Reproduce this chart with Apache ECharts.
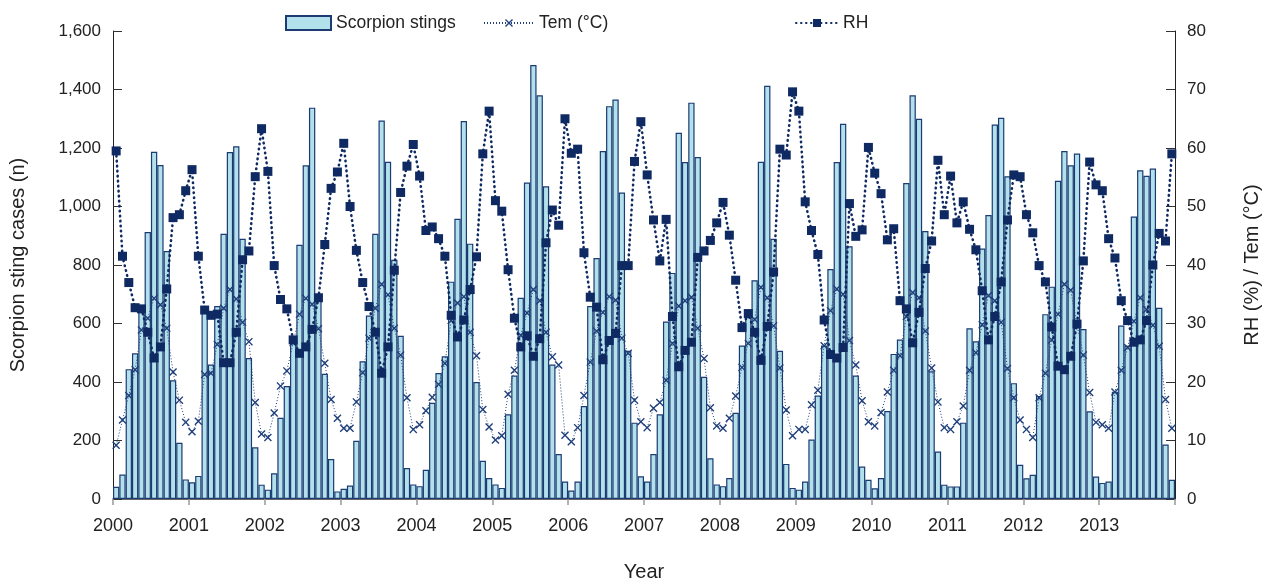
<!DOCTYPE html>
<html><head><meta charset="utf-8">
<script src="https://cdn.jsdelivr.net/npm/echarts@6/dist/echarts.min.js"></script>
<style>html,body{margin:0;padding:0;background:#fff}#c{width:1273px;height:587px}</style>
</head><body><div id="c"></div>
<script>
const yearLabels = ['2000','2001','2002','2003','2004','2005','2006','2007','2008','2009','2010','2011','2012','2013'];
const monthNames = ['Jan','Feb','Mar','Apr','May','Jun','Jul','Aug','Sep','Oct','Nov','Dec'];

const stings = [
  42,84,444,498,640,913,1187,1142,848,406,192,67,
  57,79,647,460,660,907,1186,1206,890,482,177,49,
  32,88,278,386,539,869,1141,1338,697,428,137,26,
  35,46,199,471,627,907,1294,1153,818,558,106,50,
  44,100,329,431,488,743,958,1292,873,400,131,72,
  50,38,290,422,688,1082,1484,1380,1069,460,154,60,
  29,60,318,660,824,1190,1343,1366,1048,507,261,78,
  60,154,290,607,773,1252,1152,1355,1169,418,139,50,
  44,72,295,525,635,748,1153,1413,890,507,120,38,
  32,60,203,354,525,786,1152,1283,864,422,111,66,
  37,72,301,496,545,1080,1380,1300,916,437,162,49,
  43,43,261,584,539,856,971,1280,1303,1103,396,117,
  71,83,352,632,726,1088,1190,1141,1181,581,300,77,
  55,60,367,593,524,966,1124,1105,1130,654,186,66
];
const tem = [
  9.2,13.5,17.7,22.1,28.9,30.9,34.3,33.2,29.2,21.7,16.9,13.1,
  11.5,13.3,21.3,21.5,26.4,32.6,35.8,34.2,30.2,26.9,16.5,11.1,
  10.5,14.7,19.3,21.9,26.7,31.6,34.3,33.3,29.1,23.2,17.0,13.8,
  12.1,12.1,16.6,21.6,27.5,32.6,36.7,34.9,29.2,24.6,17.3,11.9,
  12.7,15.1,17.4,19.6,23.2,30.5,33.5,34.6,28.5,24.5,15.3,12.3,
  10.1,10.8,17.9,22.0,28.0,31.8,35.8,33.9,28.5,24.3,22.9,10.9,
  9.8,12.2,17.7,23.4,28.7,31.9,34.6,34.0,27.5,24.9,16.9,13.2,
  12.2,15.5,16.5,20.3,26.6,33.0,33.9,34.5,29.2,24.0,15.6,12.5,
  12.1,13.8,17.6,22.5,26.6,30.7,36.2,34.4,29.6,22.4,15.2,10.8,
  11.9,11.9,16.1,18.6,26.2,32.2,35.9,35.0,27.1,22.9,16.8,13.2,
  12.5,14.8,18.3,22.0,24.5,31.2,35.3,34.4,28.7,22.4,16.6,12.2,
  11.9,13.2,15.9,22.0,25.0,29.8,34.8,33.9,30.2,22.3,17.3,13.5,
  11.9,10.5,17.3,21.5,27.2,31.6,36.7,35.7,29.8,24.6,18.2,13.1,
  12.7,12.1,18.3,22.0,25.9,30.4,34.4,32.4,29.7,26.1,17.0,12.1
];
const rh = [
  59.5,41.5,37.0,32.7,32.5,28.5,24.1,26.0,35.9,48.1,48.6,52.7,
  56.3,41.5,32.3,31.4,31.6,23.3,23.3,28.5,40.9,42.4,55.1,63.3,
  56.0,39.9,34.1,32.5,27.2,24.9,26.0,29.0,34.4,43.5,53.1,55.9,
  60.8,50.0,42.5,37.0,32.9,28.5,21.5,26.0,39.1,52.4,56.9,60.6,
  55.2,45.9,46.5,44.5,41.5,31.4,27.7,30.6,35.8,41.4,59.0,66.3,
  51.0,49.2,39.2,30.9,26.0,27.9,24.4,27.4,43.8,49.4,46.8,65.0,
  59.1,59.8,42.1,34.5,32.8,23.8,27.1,28.3,39.9,39.9,57.7,64.5,
  55.4,47.7,40.7,47.8,31.2,22.6,25.4,26.8,41.3,42.4,44.2,47.2,
  50.7,45.1,37.4,29.3,31.7,28.5,23.7,29.5,38.8,59.8,58.8,69.6,
  66.3,50.8,45.9,41.8,30.6,24.7,24.1,25.9,50.5,44.9,46.0,60.1,
  55.7,52.2,44.3,46.2,33.9,32.5,26.7,31.9,39.4,44.1,57.9,48.6,
  55.2,47.2,50.8,46.1,42.6,35.6,27.2,31.2,37.1,47.7,55.4,55.1,
  48.6,45.5,39.9,37.1,29.4,22.7,22.1,24.4,29.9,40.7,57.6,53.7,
  52.7,44.5,41.2,33.9,30.5,26.8,27.2,30.5,40.0,45.4,44.1,59.0
];

const categories = [];
yearLabels.forEach(y => monthNames.forEach(m => categories.push(y + ' ' + m)));

const navy = '#0f2a62';
const xSymbol = 'path://M0,1.2 L1.2,0 L5,3.8 L8.8,0 L10,1.2 L6.2,5 L10,8.8 L8.8,10 L5,6.2 L1.2,10 L0,8.8 L3.8,5 Z';
const font = 'Liberation Sans, Arial, Helvetica, sans-serif';
const legendText = {fontSize: 17.5, color: '#222', fontFamily: font};

const chart = echarts.init(document.getElementById('c'), null, {renderer: 'canvas'});
chart.setOption({
  animation: false,
  backgroundColor: '#ffffff',
  textStyle: {fontFamily: font},
  grid: {left: 113, right: 98, top: 31, bottom: 85, containLabel: false},
  legend: [
    {left: 280, top: 9, itemWidth: 45, itemHeight: 14, icon: 'rect', data: ['Scorpion stings'], textStyle: legendText},
    {left: 478, top: 9, itemWidth: 50, itemHeight: 10, data: ['Tem (°C)'], textStyle: legendText},
    {left: 790, top: 9, itemWidth: 42, itemHeight: 10, data: ['RH'], textStyle: legendText}
  ],
  xAxis: {
    type: 'category', data: categories, boundaryGap: true,
    name: 'Year', nameLocation: 'middle', nameGap: 63,
    nameTextStyle: {fontSize: 20, color: '#222'},
    axisLine: {lineStyle: {color: '#333', width: 1.5}},
    axisTick: {show: true, length: 6, interval: (i) => i % 12 === 0, lineStyle: {color: '#999', width: 1.5}},
    axisLabel: {interval: (i) => i % 12 === 0, formatter: (v) => v.slice(0, 4), fontSize: 18, color: '#222',
      margin: 18, padding: [0, 6.3, 0, 0]}
  },
  yAxis: [
    {type: 'value', min: 0, max: 1600, interval: 200, position: 'left',
     name: 'Scorpion sting cases (n)', nameLocation: 'middle', nameGap: 85, nameRotate: 90,
     nameTextStyle: {fontSize: 20, color: '#222'},
     axisLine: {show: true, lineStyle: {color: '#222', width: 1}},
     axisTick: {show: true, inside: true, length: 9, lineStyle: {color: '#333'}},
     axisLabel: {fontSize: 17, color: '#222', margin: 12, formatter: (v) => v.toLocaleString('en-US')},
     splitLine: {show: false}},
    {type: 'value', min: 0, max: 80, interval: 10, position: 'right',
     name: 'RH (%) / Tem (°C)', nameLocation: 'middle', nameGap: 67, nameRotate: 90,
     nameTextStyle: {fontSize: 20, color: '#222'},
     axisLine: {show: true, lineStyle: {color: '#222', width: 1}},
     axisTick: {show: true, inside: true, length: 9, lineStyle: {color: '#333'}},
     axisLabel: {fontSize: 17, color: '#222', margin: 12},
     splitLine: {show: false}}
  ],
  series: [
    {name: 'Scorpion stings', type: 'bar', data: stings, yAxisIndex: 0,
     barCategoryGap: '0%', barWidth: '100%',
     itemStyle: {color: '#b2e0eb', borderColor: '#1b3b72', borderWidth: 1.2}},
    {name: 'Tem (°C)', type: 'line', data: tem, yAxisIndex: 1,
     symbol: xSymbol, symbolSize: 8, showAllSymbol: true,
     lineStyle: {color: '#1e3f7a', width: 1, type: [1, 2]},
     itemStyle: {color: '#1e3f7a'}, z: 3},
    {name: 'RH', type: 'line', data: rh, yAxisIndex: 1,
     symbol: 'rect', symbolSize: 9, showAllSymbol: true,
     lineStyle: {color: navy, width: 2.6, type: [0.5, 4.5], cap: 'round'},
     itemStyle: {color: navy}, z: 4}
  ]
});
</script></body></html>
